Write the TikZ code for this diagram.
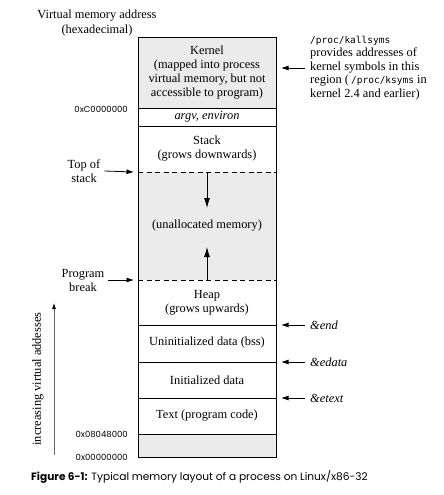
\documentclass[tikz,border=0pt]{standalone}
\usepackage{fontspec}
\setmainfont{Liberation Serif}
\newfontfamily\geofont{Poppins}
\newfontfamily\codefont{DejaVu Sans Mono}
\usepackage{tikz}
\usetikzlibrary{arrows.meta}
\tikzstyle{region}=[draw,line width=0.9pt]
\tikzstyle{unused}=[fill=black!8]
\tikzstyle{label}=[font=\fontsize{12.4}{14}\selectfont,align=center,inner sep=0pt]
\tikzstyle{note}=[font=\fontsize{12.4}{13.5}\selectfont,align=left,inner sep=0pt,anchor=west]
\tikzstyle{hex}=[font=\geofont\fontsize{8.5}{9}\selectfont,inner sep=0pt,anchor=east]
\tikzstyle{pointer}=[-{Latex[length=7.5pt,width=5pt]},line width=0.8pt]
\tikzstyle{growth}=[-{Latex[length=10pt,width=6pt]},line width=0.9pt]
\newcommand{\code}[1]{{\codefont\fontsize{9.5}{13.5}\selectfont #1}}

\begin{document}
\begin{tikzpicture}[x=1pt,y=-1pt]
  \useasboundingbox (0,0) rectangle (444,495);
  \def\boxl{138};
  \def\boxr{276};
  \def\boxmid{207};

  \fill[unused] (\boxl,37) rectangle (\boxr,108);
  \fill[unused] (\boxl,172) rectangle (\boxr,280);
  \fill[unused] (\boxl,434) rectangle (\boxr,457);
  \draw[region] (\boxl,37) rectangle (\boxr,457);
  \foreach \y in {108,126,325,362,398,434} {
    \draw[region] (\boxl,\y) -- (\boxr,\y);
  }
  \foreach \y in {172,280} {
    \draw[region,dashed,dash pattern=on 5pt off 3.5pt] (\boxl,\y) -- (\boxr,\y);
  }

  \node[label] (kernel) at (\boxmid,73) {Kernel\\(mapped into process\\virtual memory, but not\\accessible to program)};
  \node[label] (argv) at (\boxmid,117) {\textit{argv, environ}};
  \node[label] (stack) at (\boxmid,149) {Stack\\(grows downwards)};
  \node[label] (unallocated) at (\boxmid,226) {(unallocated memory)};
  \node[label] (heap) at (\boxmid,303) {Heap\\(grows upwards)};
  \node[label] (bss) at (\boxmid,343) {Uninitialized data (bss)};
  \node[label] (data) at (\boxmid,380) {Initialized data};
  \node[label] (text) at (\boxmid,416) {Text (program code)};

  \coordinate (stack top) at (\boxmid,172);
  \coordinate (stack tip) at (\boxmid,208);
  \coordinate (heap top) at (\boxmid,280);
  \coordinate (heap tip) at (\boxmid,247);
  \draw[growth] (stack top) -- (stack tip);
  \draw[growth] (heap top) -- (heap tip);

  \node[label,font=\fontsize{12.4}{15}\selectfont] (header) at (97,23) {Virtual memory address\\(hexadecimal)};
  \node[hex] (hex kernel) at (128,109) {0xC0000000};
  \node[hex] (hex text) at (128,434) {0x08048000};
  \node[hex] (hex zero) at (128,457) {0x00000000};

  % left side pointers
  \node[label] (top of stack) at (84,171) {Top of\\stack};
  \node[label] (program break) at (83,280) {Program\\break};
  \coordinate (top of stack end) at (134,172);
  \coordinate (program break end) at (134,280);
  \draw[pointer] ([xshift=4pt]top of stack.east) -- (top of stack end);
  \draw[pointer] ([xshift=3pt]program break.east) -- (program break end);

  \node[label,rotate=90] (increasing) at (38,379) {increasing virtual addesses};
  \coordinate (low end) at (54,455);
  \coordinate (high end) at (54,303);
  \draw[-{Latex[length=6pt,width=4pt,black]},black!60,line width=0.7pt] (low end) -- (high end);

  % right side pointers
  \node[note] (kallsyms) at (310,68) {\code{/proc/kallsyms}\\provides addresses of\\kernel symbols in this\\region (\,\code{/proc/ksyms} in\\kernel 2.4 and earlier)};
  \coordinate (kernel end) at (281,68);
  \draw[pointer] ([xshift=-5pt]kallsyms.west) -- (kernel end);

  \node[note] (end) at (310,325) {\textit{\&end}};
  \node[note] (edata) at (310,362) {\textit{\&edata}};
  \node[note] (etext) at (310,398) {\textit{\&etext}};
  \foreach \sym/\y in {end/325,edata/362,etext/398} {
    \coordinate (\sym \space end) at (281,\y);
    \draw[pointer] ([xshift=-5pt]\sym.west) -- (\sym \space end);
  }

  \node[font=\geofont\fontsize{10.6}{12}\selectfont,inner sep=0pt,anchor=west] (caption) at (31,477)
    {\textbf{Figure 6-1:} Typical memory layout of a process on Linux/x86-32};
\end{tikzpicture}
\end{document}
